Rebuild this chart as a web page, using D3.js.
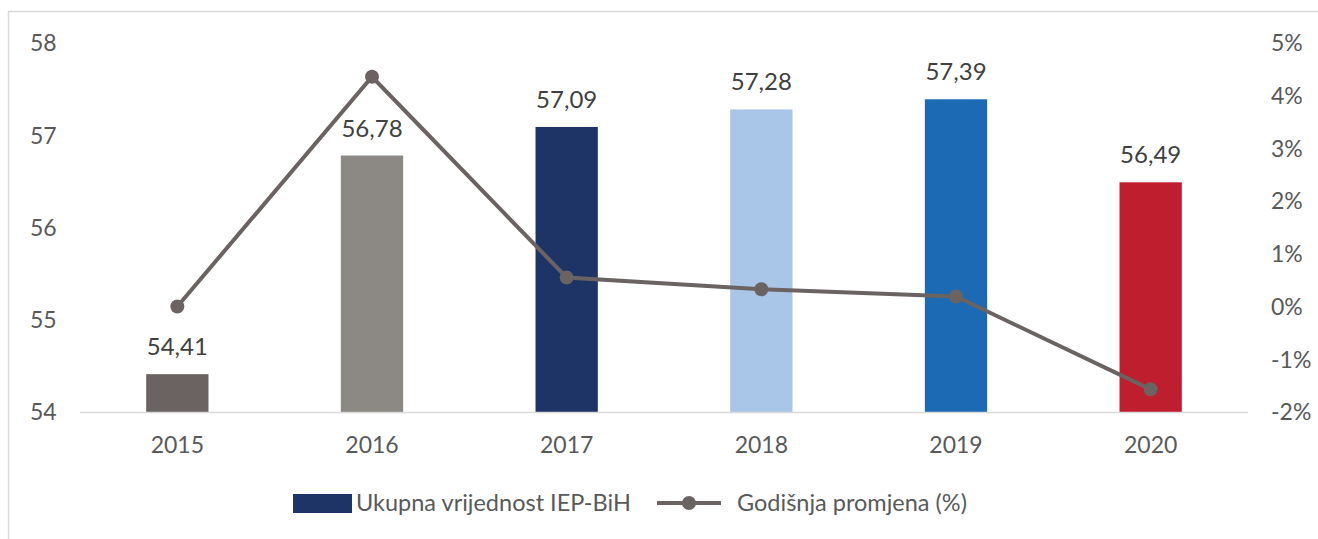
<!DOCTYPE html>
<meta charset="utf-8">
<script src="https://d3js.org/d3.v7.min.js"></script>
<style>
  body { margin: 0; background: #fff; }
  text { font-family: Lato, "Open Sans", sans-serif; }
</style>
<div id="chart"></div>
<script>

// data
var years = ["2015", "2016", "2017", "2018", "2019", "2020"];
var values = [54.41, 56.78, 57.09, 57.28, 57.39, 56.49];
var changes = [0, 4.36, 0.55, 0.33, 0.19, -1.57];
var barColors = ["#6b6361", "#8c8883", "#1f3466", "#a9c6e8", "#1c6ab3", "#be1e2d"];
var leftTicks = [54, 55, 56, 57, 58];
var rightTicks = [-2, -1, 0, 1, 2, 3, 4, 5];
var seriesNames = ["Ukupna vrijednost IEP-BiH", "Godišnja promjena (%)"];

var W = 1318, H = 539;
var margin = {top: 43, right: 70, bottom: 127, left: 80},
    width = W - margin.left - margin.right,
    height = H - margin.top - margin.bottom;

var svg = d3.select("#chart")
  .append("svg")
    .attr("width", W)
    .attr("height", H);

// outer frame
svg.append("rect")
  .attr("x", 8.5).attr("y", 11.5)
  .attr("width", W + 10).attr("height", H + 10)
  .attr("fill", "none")
  .attr("stroke", "#d9d9d9")
  .attr("stroke-width", 1.5);

var g = svg.append("g")
  .attr("transform", "translate(" + margin.left + "," + margin.top + ")");

var x = d3.scaleBand()
  .domain(years)
  .range([0, width])
  .paddingInner(0.68)
  .paddingOuter(0.34);

var y = d3.scaleLinear().domain([54, 58]).range([height, 0]);
var y2 = d3.scaleLinear().domain([-2, 5]).range([height, 0]);

// left axis labels
g.selectAll(".ly")
  .data(leftTicks)
  .enter().append("text")
    .attr("x", -50)
    .attr("y", function(d) { return y(d); })
    .attr("dy", "0.36em")
    .style("font-size", "23px")
    .attr("fill", "#595959")
    .text(function(d) { return d; });

// right axis labels
g.selectAll(".ry")
  .data(rightTicks)
  .enter().append("text")
    .attr("x", width + 23)
    .attr("y", function(d) { return y2(d); })
    .attr("dy", "0.36em")
    .style("font-size", "23px")
    .attr("fill", "#595959")
    .text(function(d) { return d + "%"; });

// bars
g.selectAll(".bar")
  .data(values)
  .enter().append("rect")
    .attr("x", function(d, i) { return x(years[i]); })
    .attr("width", x.bandwidth())
    .attr("y", function(d) { return y(d); })
    .attr("height", function(d) { return height - y(d); })
    .attr("fill", function(d, i) { return barColors[i]; });

// baseline
g.append("line")
  .attr("x1", 0).attr("x2", width)
  .attr("y1", height + 0.5).attr("y2", height + 0.5)
  .attr("stroke", "#d9d9d9")
  .attr("stroke-width", 1.5);

// year labels
g.selectAll(".xl")
  .data(years)
  .enter().append("text")
    .attr("x", function(d) { return x(d) + x.bandwidth() / 2; })
    .attr("y", height + 33)
    .attr("dy", "0.36em")
    .attr("text-anchor", "middle")
    .style("font-size", "23px")
    .attr("fill", "#595959")
    .text(function(d) { return d; });

// value labels
g.selectAll(".vl")
  .data(values)
  .enter().append("text")
    .attr("x", function(d, i) { return x(years[i]) + x.bandwidth() / 2; })
    .attr("y", function(d) { return y(d) - 19; })
    .attr("text-anchor", "middle")
    .style("font-size", "24px")
    .attr("fill", "#404040")
    .text(function(d) { return d.toFixed(2).replace(".", ","); });

// change line
var line = d3.line()
  .x(function(d, i) { return x(years[i]) + x.bandwidth() / 2; })
  .y(function(d) { return y2(d); });

g.append("path")
  .datum(changes)
  .attr("d", line)
  .attr("fill", "none")
  .attr("stroke", "#6b6361")
  .attr("stroke-width", 4);

g.selectAll(".pt")
  .data(changes)
  .enter().append("circle")
    .attr("cx", function(d, i) { return x(years[i]) + x.bandwidth() / 2; })
    .attr("cy", function(d) { return y2(d); })
    .attr("r", 7)
    .attr("fill", "#6b6361");

// legend
var lg = svg.append("g").attr("transform", "translate(293,503)");
lg.append("rect")
  .attr("x", 0).attr("y", -9)
  .attr("width", 59).attr("height", 19)
  .attr("fill", barColors[2]);
lg.append("text")
  .attr("x", 63).attr("y", 0).attr("dy", "0.36em")
  .style("font-size", "23.5px")
  .attr("fill", "#595959")
  .text(seriesNames[0]);
lg.append("line")
  .attr("x1", 364).attr("x2", 428)
  .attr("y1", 0).attr("y2", 0)
  .attr("stroke", "#6b6361")
  .attr("stroke-width", 4);
lg.append("circle")
  .attr("cx", 396).attr("cy", 0).attr("r", 7)
  .attr("fill", "#6b6361");
lg.append("text")
  .attr("x", 444).attr("y", 0).attr("dy", "0.36em")
  .style("font-size", "23.5px")
  .attr("fill", "#595959")
  .text(seriesNames[1]);

</script>
